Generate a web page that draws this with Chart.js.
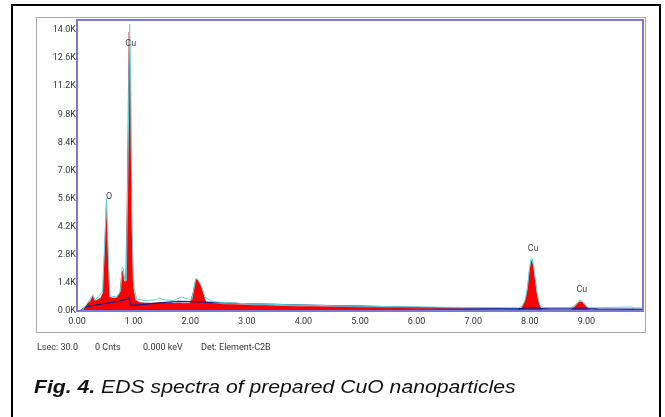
<!DOCTYPE html>
<html>
<head>
<meta charset="utf-8">
<script src="https://cdn.jsdelivr.net/npm/chart.js@4.4.1/dist/chart.umd.min.js"></script>
<style>
  html, body { margin: 0; padding: 0; background: #fff; }
  body { width: 665px; height: 417px; position: relative; overflow: hidden; font-family: Roboto, sans-serif; }
  #frame { position: absolute; left: 11px; top: 4px; width: 650px; height: 430px; border: 2px solid #000; box-sizing: border-box; }
  #panel { position: absolute; left: 36px; top: 17px; width: 610px; height: 316px; border: 1px solid #a8a8a8; box-sizing: border-box; }
  #chart { position: absolute; left: 0; top: 0; }
  .foot { position: absolute; top: 342px; font-size: 9px; color: #333; white-space: nowrap; }
  #caption { position: absolute; left: 34px; top: 376px; font-family: "Liberation Sans", Arial, sans-serif; font-size: 19px; font-style: italic; color: #111; white-space: nowrap; transform: scaleX(1.115); transform-origin: 0 50%; }
</style>
</head>
<body>
<div id="frame"></div>
<div id="panel"></div>
<canvas id="chart" width="665" height="417"></canvas>
<div class="foot" style="left:37px">Lsec: 30.0</div>
<div class="foot" style="left:95px">0 Cnts</div>
<div class="foot" style="left:143px">0.000 keV</div>
<div class="foot" style="left:201px">Det: Element-C2B</div>
<div id="caption"><b>Fig. 4.</b> EDS spectra of prepared CuO nanoparticles</div>
<script>
// Red filled spectrum (keV, counts)
const spectrumEnergy = [0.00,0.08,0.12,0.18,0.24,0.28,0.31,0.36,0.42,0.46,0.49,0.52,0.545,0.57,0.62,0.70,0.76,0.79,0.81,0.83,0.86,0.89,0.92,0.94,0.96,0.99,1.03,1.10,1.20,1.30,1.40,1.50,1.60,1.65,1.70,1.80,1.90,2.00,2.05,2.10,2.13,2.18,2.23,2.27,2.40,2.60,3.00,3.50,4.00,4.50,5.00,5.50,6.00,6.50,7.00,7.50,7.80,7.86,7.92,7.96,7.99,8.02,8.04,8.07,8.10,8.14,8.18,8.22,8.40,8.72,8.78,8.83,8.88,8.92,8.97,9.02,9.08,9.50,9.80,9.90,10.00];
const spectrumCounts = [0,0,100,350,500,750,500,550,650,900,3200,5300,3000,700,650,650,900,1900,2000,1500,1400,6000,13900,12000,5000,1200,550,420,400,390,400,420,380,420,380,400,380,380,900,1600,1550,1300,900,450,380,340,300,260,230,210,190,160,140,120,100,90,90,150,500,1100,1900,2480,2500,2100,1400,600,200,90,70,70,150,330,460,450,300,130,70,60,70,60,60];

// Cyan outline spectrum
const overlayEnergy = [0.00,0.10,0.18,0.28,0.32,0.45,0.49,0.52,0.55,0.58,0.70,0.77,0.80,0.82,0.84,0.87,0.90,0.93,0.95,0.97,1.00,1.05,1.20,1.40,1.45,1.50,1.70,1.85,1.92,2.03,2.10,2.14,2.20,2.26,2.40,3.00,4.00,5.00,6.00,7.00,7.80,7.86,7.92,7.96,7.99,8.02,8.04,8.07,8.10,8.14,8.18,8.24,8.72,8.78,8.83,8.88,8.92,8.97,9.02,9.08,9.80,9.85,10.00];
const overlayCounts = [0,50,380,800,550,950,3400,5600,3100,750,700,1000,2200,2100,1600,1500,7000,14300,11500,4800,1300,600,520,560,660,580,520,700,620,560,1620,1560,1250,700,460,360,290,240,200,170,160,230,580,1200,2000,2580,2620,2200,1500,700,280,170,170,240,400,520,500,350,200,160,200,160,150];

// Dark blue background line
const backgroundEnergy = [0.05,0.15,0.30,0.50,0.70,0.90,0.92,0.95,1.20,1.50,1.80,2.00,2.50,3.00,3.50,4.00,5.00,6.00,7.00,7.80,8.00,8.20,8.50,8.80,9.00,9.20,10.00];
const backgroundCounts = [0,200,280,380,470,600,640,280,330,420,480,470,420,360,330,300,240,180,140,120,160,130,160,140,150,110,90];

// Peak labels
const peakLabelText = ["Cu","O","Cu","Cu"];
const peakLabelEnergy = [0.95,0.565,8.06,8.92];
const peakLabelCounts = [13300,5680,3100,1080];

// Tick values
const yTickValues = [0,1400,2800,4200,5600,7000,8400,9800,11200,12600,14000];
const xTickValues = [0,1,2,3,4,5,6,7,8,9];

const toPoints = (xs, ys) => xs.map((x, i) => ({x: x, y: ys[i]}));

const framePlugin = {
  id: 'frameAndLabels',
  afterDatasetsDraw(chart) {
    const {ctx, chartArea: a, scales} = chart;
    ctx.save();
    ctx.font = '9px Roboto, sans-serif';
    ctx.fillStyle = '#444';
    ctx.textAlign = 'center';
    ctx.textBaseline = 'middle';
    peakLabelText.forEach((t, i) => {
      ctx.fillText(t, scales.x.getPixelForValue(peakLabelEnergy[i]), scales.y.getPixelForValue(peakLabelCounts[i]));
    });
    ctx.strokeStyle = '#7a7ad6';
    ctx.lineWidth = 2;
    ctx.strokeRect(a.left, a.top, a.right - a.left, a.bottom - a.top);
    ctx.restore();
  }
};

new Chart(document.getElementById('chart'), {
  type: 'scatter',
  data: {
    datasets: [
      {
        data: toPoints(spectrumEnergy, spectrumCounts),
        showLine: true, fill: 'origin',
        backgroundColor: '#ff0000', borderColor: '#b01010', borderWidth: 0.6,
        pointRadius: 0, tension: 0, order: 3
      },
      {
        data: toPoints(backgroundEnergy, backgroundCounts),
        showLine: true, fill: false,
        borderColor: '#1a1a8c', borderWidth: 1.2,
        pointRadius: 0, tension: 0, order: 2
      },
      {
        data: toPoints(overlayEnergy, overlayCounts),
        showLine: true, fill: false,
        borderColor: '#5ad8dc', borderWidth: 1,
        pointRadius: 0, tension: 0, order: 1
      }
    ]
  },
  options: {
    responsive: false,
    animation: false,
    layout: { padding: { left: 37, right: 22, top: 20, bottom: 86 } },
    plugins: { legend: { display: false }, tooltip: { enabled: false } },
    scales: {
      x: {
        type: 'linear', min: 0, max: 10,
        grid: { display: false, drawTicks: false },
        border: { display: false },
        afterBuildTicks: (s) => { s.ticks = xTickValues.map(v => ({value: v})); },
        afterFit: (s) => { s.height = 20; },
        ticks: {
          padding: 5, color: '#333', maxRotation: 0, autoSkip: false,
          font: { family: 'Roboto', size: 9 },
          callback: (v) => Number(v).toFixed(2)
        }
      },
      y: {
        type: 'linear', min: 0, max: 14500,
        grid: { display: false, drawTicks: false },
        border: { display: false },
        afterBuildTicks: (s) => { s.ticks = yTickValues.map(v => ({value: v})); },
        afterFit: (s) => { s.width = 40; },
        ticks: {
          padding: 1, color: '#333', autoSkip: false,
          font: { family: 'Roboto', size: 9 },
          callback: (v) => (v / 1000).toFixed(1) + 'K'
        }
      }
    }
  },
  plugins: [framePlugin]
});
</script>
</body>
</html>
